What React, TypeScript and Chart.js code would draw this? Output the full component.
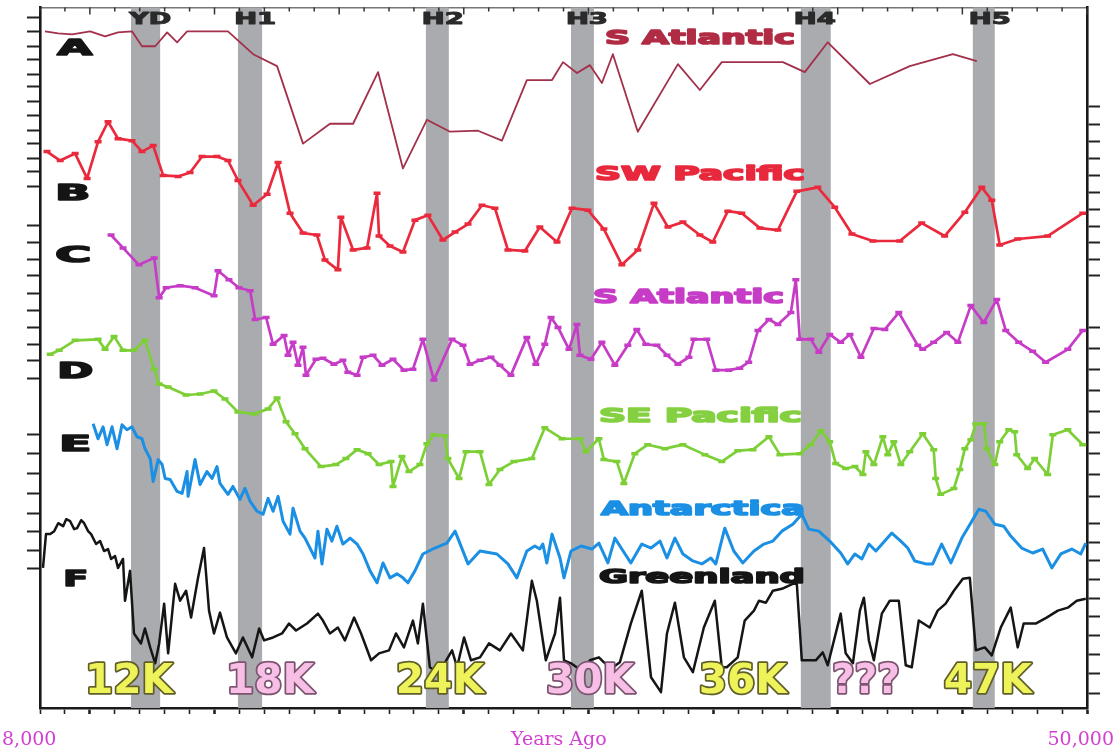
import React, { useEffect, useRef } from "react";
import { Chart, registerables } from "chart.js";

Chart.register(...registerables);

type P = [number, number];

// x: thousand years ago (kyr), y: stacked display offset (relative units)
const sAtlanticA: P[] = [
  [8.2, 681], [8.73, 679], [9.29, 678], [10.01, 681], [10.61, 676], [11.13, 680], [11.69, 681], [12.09, 666], [12.62, 666], [13.1, 680],
  [13.5, 670], [13.9, 681], [15.54, 681], [16.55, 658], [17.51, 646], [18.55, 568], [19.63, 588], [20.56, 588], [21.56, 640], [22.56, 543],
  [23.52, 592], [24.45, 580], [25.57, 581], [26.53, 571], [27.53, 632], [28.54, 632], [28.98, 650], [29.54, 639], [30.06, 647], [30.54, 629],
  [30.98, 658], [31.98, 580], [33.59, 648], [34.47, 622], [35.35, 650], [36.48, 650], [37.8, 650], [38.68, 640], [39.6, 670], [41.29, 628],
  [42.89, 646], [44.62, 658], [45.58, 651],
];

const swPacificB: P[] = [
  [8.28, 560], [8.81, 551], [9.41, 558], [9.89, 533], [10.33, 570], [10.73, 590], [11.13, 573], [11.69, 571], [12.09, 560], [12.54, 566],
  [12.94, 536], [13.54, 535], [14.02, 539], [14.5, 555], [15.1, 555], [15.54, 551], [15.94, 531], [16.55, 506], [17.11, 517], [17.55, 549],
  [18.03, 498], [18.55, 478], [19.11, 476], [19.43, 451], [19.95, 441], [20.07, 494], [20.56, 461], [21.12, 463], [21.52, 518], [21.6, 475],
  [22.04, 465], [22.56, 459], [23.04, 491], [23.56, 496], [24.16, 471], [24.65, 479], [25.17, 487], [25.73, 506], [26.25, 503], [26.77, 461],
  [27.45, 460], [28.05, 484], [28.74, 469], [29.34, 503], [29.98, 501], [30.62, 482], [31.34, 446], [31.98, 461], [32.63, 508], [33.19, 484],
  [33.79, 489], [34.47, 476], [34.99, 469], [35.59, 500], [36.15, 498], [36.88, 483], [37.6, 481], [38.36, 520], [39.2, 524], [39.88, 504],
  [40.57, 477], [41.41, 470], [42.49, 470], [43.37, 488], [44.29, 475], [45.1, 499], [45.78, 524], [46.18, 511], [46.5, 466], [47.22, 472],
  [48.42, 475], [49.83, 498],
];

const sAtlanticC: P[] = [
  [10.85, 476], [11.33, 463], [11.97, 446], [12.58, 453], [12.78, 413], [13.06, 423], [13.62, 425], [14.22, 423], [14.98, 415], [15.14, 440],
  [15.58, 431], [15.98, 423], [16.43, 420], [16.63, 391], [17.07, 393], [17.35, 366], [17.79, 375], [17.95, 355], [18.15, 368], [18.35, 345],
  [18.55, 363], [18.67, 335], [19.07, 351], [19.35, 352], [19.79, 346], [20.15, 350], [20.35, 338], [20.72, 335], [20.96, 353], [21.36, 355],
  [21.72, 345], [22.16, 351], [22.6, 340], [22.96, 341], [23.36, 371], [23.8, 330], [24.53, 371], [24.97, 365], [25.25, 346], [25.65, 350],
  [26.09, 353], [26.45, 345], [26.89, 335], [27.53, 373], [27.89, 346], [28.25, 366], [28.5, 393], [28.78, 383], [29.22, 361], [29.54, 386],
  [29.66, 355], [30.1, 351], [30.54, 368], [31.06, 345], [31.58, 365], [31.94, 381], [32.3, 366], [32.75, 365], [33.15, 355], [33.59, 346],
  [34.03, 353], [34.23, 371], [34.75, 371], [35.11, 340], [35.63, 340], [36.07, 342], [36.43, 348], [36.8, 380], [37.24, 391], [37.6, 386],
  [38.12, 398], [38.32, 431], [38.48, 371], [38.92, 371], [39.24, 358], [39.68, 376], [40.12, 368], [40.49, 376], [40.93, 353], [41.45, 382],
  [41.89, 381], [42.45, 398], [43.21, 365], [43.41, 361], [43.85, 368], [44.37, 378], [44.82, 368], [45.34, 405], [45.86, 388], [46.38, 411],
  [46.74, 380], [47.26, 368], [47.82, 359], [48.34, 348], [49.23, 361], [49.83, 380],
];

const sePacificD: P[] = [
  [8.41, 356], [8.77, 360], [9.41, 370], [10.33, 371], [10.61, 361], [10.97, 374], [11.33, 360], [11.77, 360], [12.21, 370], [12.58, 341],
  [12.78, 326], [13.14, 323], [13.86, 315], [14.42, 316], [14.98, 319], [15.42, 311], [15.94, 298], [16.59, 296], [17.15, 301], [17.51, 312],
  [17.87, 288], [18.23, 276], [18.63, 261], [19.27, 243], [19.87, 245], [20.27, 251], [20.72, 260], [21.16, 256], [21.6, 245], [22.08, 248],
  [22.16, 223], [22.52, 253], [22.8, 238], [23.24, 245], [23.52, 266], [23.8, 275], [24.24, 274], [24.36, 251], [24.81, 231], [25.09, 258],
  [25.65, 258], [26.01, 225], [26.45, 240], [27.01, 248], [27.73, 251], [28.25, 282], [28.94, 271], [29.66, 271], [29.9, 258], [30.42, 271],
  [30.62, 250], [31.14, 248], [31.42, 226], [31.86, 256], [32.38, 265], [33.07, 261], [33.79, 265], [34.67, 255], [35.35, 248], [35.99, 259],
  [36.6, 260], [37.24, 273], [37.68, 255], [38.48, 256], [38.92, 265], [39.32, 279], [39.68, 268], [39.92, 246], [40.32, 241], [40.69, 243],
  [41.01, 235], [41.13, 258], [41.45, 245], [41.81, 273], [42.01, 255], [42.25, 268], [42.53, 245], [42.89, 258], [43.41, 276], [43.85, 260],
  [43.93, 231], [44.13, 215], [44.66, 221], [44.9, 240], [45.1, 261], [45.34, 270], [45.54, 286], [45.86, 286], [45.98, 261], [46.3, 245],
  [46.5, 268], [46.86, 280], [47.1, 278], [47.18, 255], [47.62, 241], [47.9, 251], [48.42, 235], [48.63, 275], [49.23, 280], [49.83, 265],
];

const antarcticaE: P[] = [
  [10.13, 286], [10.33, 271], [10.53, 283], [10.69, 265], [10.89, 283], [11.09, 261], [11.29, 285], [11.49, 280], [11.69, 283], [11.89, 273],
  [12.09, 271], [12.21, 261], [12.42, 251], [12.54, 228], [12.74, 250], [12.9, 245], [13.02, 231], [13.22, 230], [13.5, 218], [13.7, 216],
  [13.9, 238], [13.94, 213], [14.22, 250], [14.42, 225], [14.7, 238], [14.9, 231], [15.1, 243], [15.22, 226], [15.54, 215], [15.74, 223],
  [16.02, 210], [16.22, 221], [16.43, 208], [16.71, 198], [16.95, 195], [17.15, 211], [17.35, 198], [17.55, 213], [17.75, 188], [18.03, 175],
  [18.15, 201], [18.43, 178], [18.63, 171], [18.83, 161], [19.03, 151], [19.15, 178], [19.31, 145], [19.51, 180], [19.71, 168], [19.91, 183],
  [20.15, 165], [20.44, 171], [20.72, 165], [20.96, 155], [21.24, 138], [21.52, 126], [21.76, 146], [22.04, 131], [22.32, 135], [22.56, 131],
  [22.76, 126], [23.04, 138], [23.36, 155], [23.84, 161], [24.32, 166], [24.65, 178], [25.17, 145], [25.65, 158], [26.33, 155], [26.77, 145],
  [27.13, 131], [27.53, 158], [27.85, 163], [28.05, 160], [28.17, 165], [28.33, 146], [28.54, 175], [28.86, 151], [29.02, 131], [29.3, 158],
  [29.7, 163], [30.14, 160], [30.42, 166], [30.78, 146], [31.06, 171], [31.34, 160], [31.7, 146], [32.14, 165], [32.51, 161], [32.87, 168],
  [33.15, 151], [33.47, 171], [33.79, 155], [34.19, 148], [34.55, 145], [34.91, 151], [35.11, 145], [35.47, 181], [35.83, 158], [36.19, 146],
  [36.64, 158], [37.04, 165], [37.4, 168], [37.76, 178], [38.2, 185], [38.56, 195], [38.84, 180], [39.24, 178], [39.68, 168], [40.12, 156],
  [40.4, 145], [40.69, 155], [40.97, 150], [41.25, 165], [41.53, 158], [42.17, 176], [42.53, 168], [42.81, 161], [43.09, 148], [43.53, 145],
  [43.81, 145], [44.17, 165], [44.54, 146], [44.98, 171], [45.38, 188], [45.66, 200], [45.94, 198], [46.3, 185], [46.66, 183], [46.94, 173],
  [47.38, 161], [47.82, 156], [48.22, 160], [48.59, 141], [48.95, 155], [49.39, 160], [49.75, 155], [49.95, 166],
];

const greenlandF: P[] = [
  [8.12, 141], [8.24, 175], [8.41, 175], [8.57, 178], [8.73, 186], [8.93, 183], [9.05, 190], [9.21, 188], [9.37, 180], [9.49, 181],
  [9.65, 189], [9.77, 186], [9.93, 178], [10.05, 175], [10.25, 165], [10.41, 168], [10.57, 158], [10.73, 160], [10.85, 150], [11.01, 153],
  [11.13, 141], [11.33, 150], [11.41, 108], [11.61, 138], [11.77, 75], [12.05, 65], [12.21, 80], [12.42, 61], [12.62, 45], [12.78, 65],
  [12.98, 105], [13.14, 55], [13.42, 125], [13.62, 108], [13.86, 118], [14.06, 91], [14.34, 131], [14.58, 161], [14.78, 98], [14.98, 75],
  [15.22, 96], [15.5, 71], [15.86, 55], [16.14, 71], [16.51, 51], [16.79, 80], [16.99, 68], [17.35, 71], [17.71, 75], [17.99, 85],
  [18.27, 78], [18.71, 85], [19.15, 95], [19.35, 88], [19.63, 75], [19.95, 81], [20.23, 68], [20.6, 91], [20.88, 75], [21.28, 48],
  [21.6, 55], [22.0, 58], [22.28, 75], [22.6, 61], [22.96, 88], [23.16, 65], [23.36, 105], [23.64, 41], [24.0, 35], [24.53, 58],
  [24.73, 41], [25.01, 71], [25.29, 48], [25.65, 51], [26.01, 65], [26.45, 58], [26.89, 75], [27.37, 58], [27.73, 128], [27.93, 108],
  [28.29, 48], [28.66, 75], [28.86, 111], [29.02, 48], [29.3, 45], [29.7, 38], [30.06, 48], [30.42, 51], [30.62, 46], [30.94, 40],
  [31.26, 46], [31.7, 85], [32.14, 118], [32.51, 31], [32.91, 16], [33.15, 75], [33.47, 106], [33.83, 51], [34.19, 36], [34.63, 81],
  [35.07, 108], [35.35, 41], [35.55, 41], [35.99, 51], [36.27, 88], [36.64, 98], [36.84, 108], [37.12, 106], [37.4, 118], [37.76, 120],
  [38.2, 125], [38.36, 125], [38.56, 48], [39.12, 48], [39.4, 56], [39.6, 43], [40.12, 95], [40.32, 55], [40.61, 45], [40.89, 98],
  [41.05, 111], [41.25, 68], [41.45, 48], [41.77, 95], [42.09, 108], [42.45, 108], [42.73, 43], [42.97, 41], [43.25, 88], [43.69, 81],
  [44.01, 98], [44.33, 105], [44.66, 118], [45.02, 130], [45.3, 131], [45.54, 58], [45.9, 61], [46.18, 53], [46.54, 81], [46.94, 101],
  [47.22, 61], [47.46, 85], [47.94, 85], [48.38, 91], [48.83, 98], [49.23, 101], [49.59, 108], [49.95, 110],
];

// Heinrich / Younger Dryas events (kyr)
const bandNames = ["YD", "H1", "H2", "H3", "H4", "H5"];
const bandStarts = [11.65, 15.94, 23.48, 29.3, 38.52, 45.42];
const bandEnds = [12.82, 16.91, 24.4, 30.22, 39.72, 46.3];
const bandLabelAt = [12.42, 16.63, 24.16, 29.94, 39.08, 46.1];

const eventLabels = ["12K", "18K", "24K", "30K", "36K", "???", "47K"];
const eventLabelAt = [11.57, 17.23, 24.04, 30.06, 36.19, 41.13, 46.02];
const eventLabelPink = [false, true, false, true, false, true, false];

const leftTicks = [695, 681, 666, 653, 638, 625, 610, 596, 581, 568, 553, 540, 525, 486, 468, 451, 435, 417, 400, 383, 366, 350, 332, 275, 256, 236, 216, 196, 178, 159, 140];
const rightTicks = [605, 587, 570, 553, 536, 519, 502, 485, 468, 451, 435, 383, 362, 341, 320, 298, 277, 256, 235, 213, 186, 167, 148, 129, 110, 92, 73, 54, 35, 15];

const axisMin = 8;
const axisMax = 50;

const SERIF = '"DejaVu Serif", "Liberation Serif", serif';
const SANS = '"DejaVu Sans", "Liberation Sans", sans-serif';

function drawStretched(
  ctx: CanvasRenderingContext2D,
  text: string,
  x: number,
  y: number,
  font: string,
  width: number,
  fill: string,
  align: "left" | "center",
  stroke?: string,
  strokeWidth?: number
) {
  ctx.save();
  ctx.font = font;
  ctx.textBaseline = "middle";
  ctx.textAlign = "left";
  const w = ctx.measureText(text).width || 1;
  const sx = width / w;
  const left = align === "center" ? x - width / 2 : x;
  ctx.translate(left, y);
  ctx.scale(sx, 1);
  if (stroke) {
    ctx.lineJoin = "round";
    ctx.strokeStyle = stroke;
    ctx.lineWidth = strokeWidth || 3;
    ctx.strokeText(text, 0, 0);
  }
  ctx.fillStyle = fill;
  ctx.fillText(text, 0, 0);
  ctx.restore();
}

const seriesLabels = [
  { text: "S Atlantic", x: 30.66, y: 673, w: 190, color: "#b02c44" },
  { text: "SW Pacific", x: 30.26, y: 536, w: 210, color: "#e8283c" },
  { text: "S Atlantic", x: 30.18, y: 413, w: 191, color: "#c63cc6" },
  { text: "SE Pacific", x: 30.42, y: 293, w: 203, color: "#84d040" },
  { text: "Antarctica", x: 30.5, y: 199, w: 204, color: "#1a8fe3" },
  { text: "Greenland", x: 30.42, y: 131, w: 206, color: "#151515" },
];

const panelLetters = [
  { text: "A", x: 8.69, y: 663, w: 35 },
  { text: "B", x: 8.61, y: 517, w: 35 },
  { text: "C", x: 8.61, y: 455, w: 36 },
  { text: "D", x: 8.69, y: 338, w: 36 },
  { text: "E", x: 8.77, y: 264, w: 32 },
  { text: "F", x: 8.93, y: 129, w: 25 },
];

const overlayPlugin = {
  id: "overlay",
  beforeDatasetsDraw(chart: any) {
    const { ctx, chartArea, scales } = chart;
    const xs = scales.x;
    ctx.save();
    ctx.fillStyle = "#a9abaf";
    for (let i = 0; i < bandStarts.length; i++) {
      const x1 = xs.getPixelForValue(bandStarts[i]);
      const x2 = xs.getPixelForValue(bandEnds[i]);
      ctx.fillRect(x1, chartArea.top, x2 - x1, chartArea.bottom - chartArea.top);
    }
    // inner top tick marks
    ctx.strokeStyle = "#333";
    ctx.lineWidth = 1.5;
    for (const t of xs.ticks) {
      const px = xs.getPixelForValue(t.value);
      const len = t.value % 5 === 0 ? 7 : 4;
      ctx.beginPath();
      ctx.moveTo(px, chartArea.top);
      ctx.lineTo(px, chartArea.top + len);
      ctx.stroke();
    }
    ctx.restore();
  },
  afterDatasetsDraw(chart: any) {
    const { ctx, scales } = chart;
    const xs = scales.x;
    const ys = scales.y;
    for (let i = 0; i < bandNames.length; i++) {
      drawStretched(ctx, bandNames[i], xs.getPixelForValue(bandLabelAt[i]), ys.getPixelForValue(692), `bold 15px ${SANS}`, 42, "#2a2a2a", "center", "#2a2a2a", 1);
    }
    for (const l of seriesLabels) {
      drawStretched(ctx, l.text, xs.getPixelForValue(l.x), ys.getPixelForValue(l.y), `bold 19px ${SANS}`, l.w, l.color, "left", l.color, 1.6);
    }
    for (const l of panelLetters) {
      drawStretched(ctx, l.text, xs.getPixelForValue(l.x), ys.getPixelForValue(l.y), `bold 22px ${SANS}`, l.w, "#141414", "left", "#141414", 1.6);
    }
    for (let i = 0; i < eventLabels.length; i++) {
      const pink = eventLabelPink[i];
      drawStretched(
        ctx,
        eventLabels[i],
        xs.getPixelForValue(eventLabelAt[i]),
        ys.getPixelForValue(26),
        `bold 41px ${SANS}`,
        eventLabels[i] === "???" ? 68 : 88,
        pink ? "#f7bfe6" : "#eef35a",
        "center",
        pink ? "#7d5470" : "#5f5e2a",
        3.5
      );
    }
  },
  afterDraw(chart: any) {
    const { ctx } = chart;
    ctx.save();
    ctx.font = `19px ${SERIF}`;
    ctx.fillStyle = "#d23fd2";
    ctx.textBaseline = "middle";
    ctx.textAlign = "left";
    ctx.fillText("8,000", 2, 740);
    ctx.fillText("Years Ago", 511, 740);
    ctx.textAlign = "right";
    ctx.fillText("50,000", 1114, 740);
    ctx.restore();
  },
};

function lineDs(label: string, data: P[], color: string, width: number, markers: boolean) {
  return {
    label,
    data: data.map(([x, y]) => ({ x, y })),
    borderColor: color,
    backgroundColor: color,
    borderWidth: width,
    pointRadius: markers ? 3.5 : 0,
    pointStyle: "line" as const,
    pointBorderWidth: 3.5,
    pointBorderColor: color,
    tension: 0,
    borderJoinStyle: "round" as const,
    fill: false,
    yAxisID: "y",
    xAxisID: "x",
  };
}

export default function App() {
  const ref = useRef<HTMLCanvasElement | null>(null);
  useEffect(() => {
    if (!ref.current) return;
    const chart = new Chart(ref.current, {
      type: "line",
      data: {
        datasets: [
          lineDs("S Atlantic (A)", sAtlanticA, "#a3304a", 1.8, false),
          lineDs("SW Pacific (B)", swPacificB, "#ea2a3c", 2.7, true),
          lineDs("S Atlantic (C)", sAtlanticC, "#c63cc6", 2.7, true),
          lineDs("SE Pacific (D)", sePacificD, "#7dcf36", 2.7, true),
          lineDs("Antarctica (E)", antarcticaE, "#1a8fe3", 3, false),
          lineDs("Greenland (F)", greenlandF, "#151515", 2.5, false),
        ],
      },
      options: {
        animation: false,
        responsive: false,
        events: [],
        layout: { padding: { left: 27, right: 15, top: 3, bottom: 40 } },
        plugins: { legend: { display: false }, tooltip: { enabled: false } },
        scales: {
          x: {
            type: "linear",
            position: "bottom",
            min: axisMin,
            max: axisMax,
            ticks: { display: false, stepSize: 1 },
            grid: {
              drawOnChartArea: false,
              drawTicks: true,
              tickLength: 6,
              tickColor: "#222",
              tickWidth: (c: any) => (c.tick && c.tick.value % 5 === 0 ? 2.6 : 1.6),
            },
            border: { display: true, color: "#1a1a1a", width: 2.6 },
          },
          xT: {
            type: "linear",
            position: "top",
            min: axisMin,
            max: axisMax,
            ticks: { display: false, stepSize: 1 },
            grid: { drawOnChartArea: false, drawTicks: false },
            border: { display: true, color: "#777", width: 1.5 },
          },
          y: { type: "linear", display: false, min: 0, max: 705 },
          yL: {
            type: "linear",
            position: "left",
            min: 0,
            max: 705,
            afterBuildTicks: (s: any) => {
              s.ticks = leftTicks.map((v) => ({ value: v }));
            },
            ticks: { display: false },
            grid: { drawOnChartArea: false, drawTicks: true, tickLength: 13, tickColor: "#222", tickWidth: 2 },
            border: { display: true, color: "#1a1a1a", width: 2.6 },
          },
          yR: {
            type: "linear",
            position: "right",
            min: 0,
            max: 705,
            afterBuildTicks: (s: any) => {
              s.ticks = rightTicks.map((v) => ({ value: v }));
            },
            ticks: { display: false },
            grid: { drawOnChartArea: false, drawTicks: true, tickLength: 13, tickColor: "#222", tickWidth: 2 },
            border: { display: true, color: "#1a1a1a", width: 2.6 },
          },
        },
      },
      plugins: [overlayPlugin],
    } as any);
    return () => chart.destroy();
  }, []);

  return (
    <div style={{ position: "fixed", left: 0, top: 0, width: 1115, height: 754, background: "#ffffff" }}>
      <canvas ref={ref} width={1115} height={754} style={{ display: "block", width: 1115, height: 754 }} />
    </div>
  );
}
